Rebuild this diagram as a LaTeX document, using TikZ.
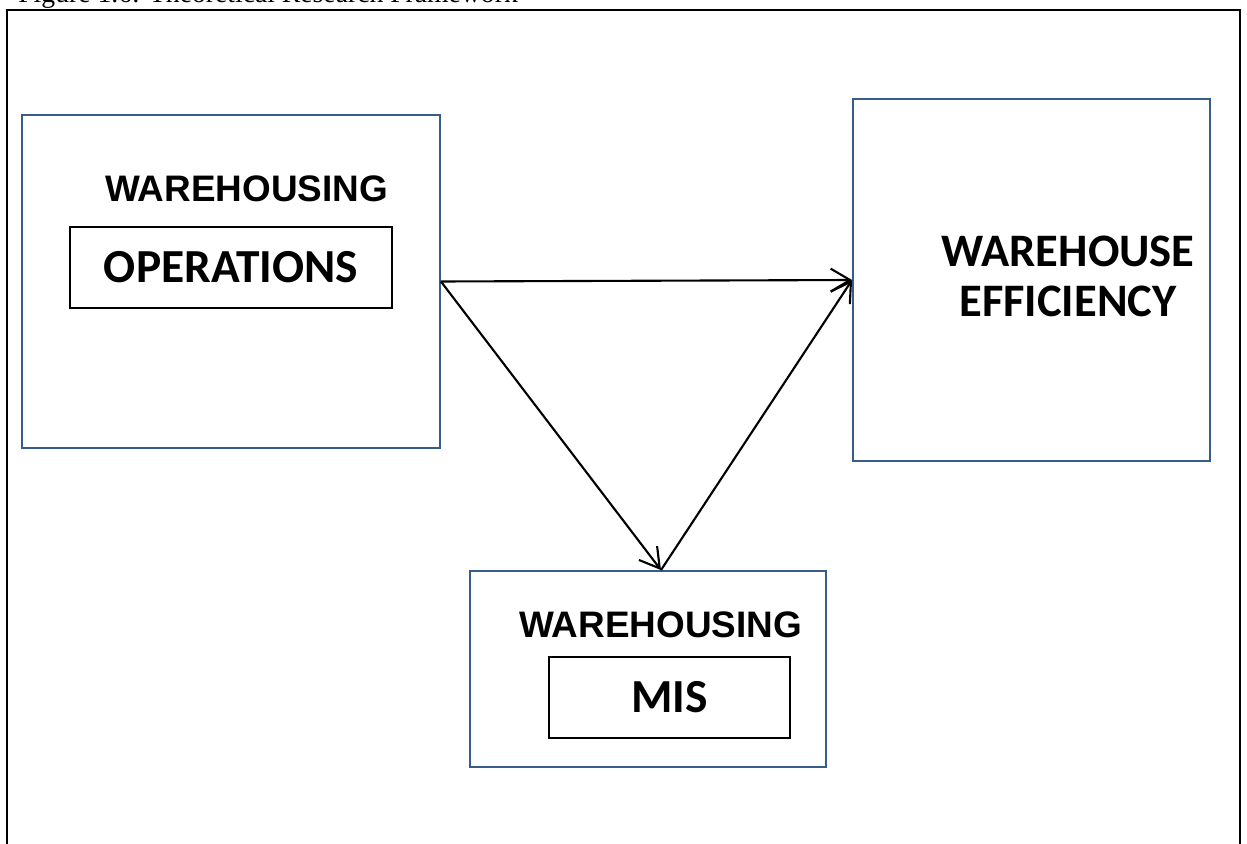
\documentclass[tikz,border=0pt]{standalone}
\usepackage{fontspec}
\setmainfont{Liberation Serif}
\newfontfamily\arialfont{Liberation Sans}
\newfontfamily\calibrifont{Carlito}
\usepackage{xcolor}
\usetikzlibrary{positioning}
\usetikzlibrary{arrows.meta}
\definecolor{boxblue}{HTML}{385D8A}

\begin{document}
\begin{tikzpicture}[x=0.02cm,y=-0.02cm,
      outer style/.style={rectangle,draw=boxblue,line width=1.1pt,inner
        sep=0pt},
      inner style/.style={rectangle,draw=black,line width=1pt,minimum
        height=1.62cm,inner sep=0pt,align=center,
        font=\calibrifont\bfseries\fontsize{27}{30}\selectfont},
      head style/.style={inner sep=0pt,anchor=base,
        font=\arialfont\bfseries\fontsize{21}{25}\selectfont},
      link style/.style={-{Straight Barb[length=11pt,width=13pt]},line
        width=1.2pt}
      ]
      \useasboundingbox (0,0) rectangle (1247,844);
      \node[anchor=base west,inner sep=0pt,font=\fontsize{15.75}{18}\selectfont]
        (title) at (18,2.5) {Figure 1.6: Theoretical Research Framework};
      \draw[line width=1.1pt] (7,870) -- (7,10) -- (1240,10) -- (1240,870);

      \node[outer style,minimum width=8.36cm,minimum height=6.66cm] (ops) at (231,281.5) {};
      \node[head style] (opshead) at (246.5,202) {WAREHOUSING};
      \node[inner style,minimum width=6.44cm] (opsbox) at (231,267.5) {OPERATIONS};

      \node[outer style,minimum width=7.14cm,minimum height=7.24cm] (eff) at (1031.5,280) {};
      \node[align=center,inner sep=0pt,
        font=\calibrifont\bfseries\fontsize{26.5}{28.35}\selectfont]
        (efftext) at (1068,276) {WAREHOUSE\\EFFICIENCY};

      \node[outer style,minimum width=7.12cm,minimum height=3.92cm] (mis) at (648,669) {};
      \node[head style] (mishead) at (660.5,637) {WAREHOUSING};
      \node[inner style,minimum width=4.82cm] (misbox) at (669.5,697.5) {MIS};

      \draw[link style] (ops.east) -- (eff.west);
      \draw[link style] (ops.east) -- ([xshift=0.26cm]mis.north);
      \draw[link style] ([xshift=0.26cm]mis.north) -- (eff.west);

    \end{tikzpicture}
\end{document}
